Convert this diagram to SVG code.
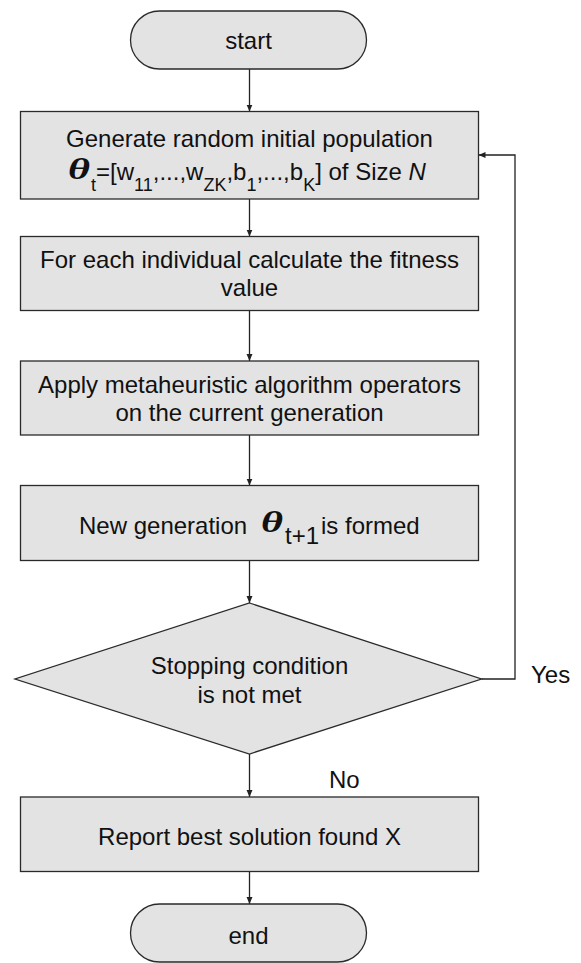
<svg xmlns="http://www.w3.org/2000/svg" width="581" height="963" viewBox="0 0 581 963">
<defs>
<marker id="arr" markerWidth="8" markerHeight="8" refX="7" refY="4" orient="auto" markerUnits="userSpaceOnUse">
<path d="M0,1 L7,4 L0,7 Z" fill="#222"/>
</marker>
<style>
.shape{fill:#e3e3e3;stroke:#2a2a2a;stroke-width:1.3}
.t{font-family:"Liberation Sans",Arial,sans-serif;font-size:24px;fill:#111;text-anchor:middle}
.ts{font-family:"Liberation Sans",Arial,sans-serif;font-size:24px;fill:#111}
.sub{font-size:18px}
.th{font-family:"Liberation Serif","Times New Roman",serif;font-weight:bold;font-style:italic;font-size:30px;fill:#111}
.lbl{font-family:"Liberation Sans",Arial,sans-serif;font-size:24px;fill:#111}
.c{fill:none;stroke:#222;stroke-width:1.3;marker-end:url(#arr)}
</style>
</defs>
<rect width="581" height="963" fill="#fff"/>
<g id="connectors">
<line class="c" x1="249.5" y1="69" x2="249.5" y2="111.5"/>
<line class="c" x1="249.5" y1="199" x2="249.5" y2="236.5"/>
<line class="c" x1="249.5" y1="310.5" x2="249.5" y2="361"/>
<line class="c" x1="249.5" y1="435" x2="249.5" y2="485.5"/>
<line class="c" x1="249.5" y1="560.5" x2="249.5" y2="603"/>
<line class="c" x1="249.5" y1="754" x2="249.5" y2="797"/>
<line class="c" x1="249.5" y1="871.5" x2="249.5" y2="904"/>
<polyline class="c" points="481.5,679 515,679 515,155 478.5,155"/>
<text class="lbl" x="531" y="683">Yes</text>
<text class="lbl" x="329" y="788">No</text>
</g>
<g id="start">
<rect class="shape" x="130.5" y="11" width="236" height="58" rx="29" ry="29"/>
<text class="t" x="248.5" y="49">start</text>
</g>
<g id="init">
<rect class="shape" x="20.5" y="111.5" width="458" height="87.5"/>
<text class="t" x="249.5" y="147">Generate random initial population</text>
<text class="th" x="68" y="179" textLength="22" lengthAdjust="spacingAndGlyphs">θ</text>
<text class="ts" x="91" y="180"><tspan class="sub" dy="11">t</tspan><tspan dy="-11">=[w</tspan><tspan class="sub" dy="11">11</tspan><tspan dy="-11">,...,w</tspan><tspan class="sub" dy="11">ZK</tspan><tspan dy="-11">,b</tspan><tspan class="sub" dy="11">1</tspan><tspan dy="-11">,...,b</tspan><tspan class="sub" dy="11">K</tspan><tspan dy="-11">] of Size </tspan><tspan font-style="italic">N</tspan></text>
</g>
<g id="fitness">
<rect class="shape" x="20.5" y="236.5" width="458" height="74"/>
<text class="t" x="249.5" y="267.5">For each individual calculate the fitness</text>
<text class="t" x="249.5" y="296">value</text>
</g>
<g id="operators">
<rect class="shape" x="20.5" y="361" width="458" height="74"/>
<text class="t" x="249.5" y="392.5">Apply metaheuristic algorithm operators</text>
<text class="t" x="249.5" y="421">on the current generation</text>
</g>
<g id="newgen">
<rect class="shape" x="20.5" y="485.5" width="458" height="75"/>
<text class="ts" x="79" y="533.5">New generation</text>
<text class="th" x="261" y="532" textLength="22" lengthAdjust="spacingAndGlyphs">θ</text>
<text class="ts" x="285" y="544" font-size="19">t+1</text>
<text class="ts" x="321" y="533.5">is formed</text>
</g>
<g id="decision">
<polygon class="shape" points="249.5,603 481.5,679 249.5,754 15,679"/>
<text class="t" x="249.5" y="674">Stopping condition</text>
<text class="t" x="249.5" y="703">is not met</text>
</g>
<g id="report">
<rect class="shape" x="20.5" y="797" width="458" height="74.5"/>
<text class="t" x="249.5" y="845">Report best solution found X</text>
</g>
<g id="end">
<rect class="shape" x="130.5" y="904" width="236" height="58" rx="29" ry="29"/>
<text class="t" x="248.5" y="943.5">end</text>
</g>
</svg>
